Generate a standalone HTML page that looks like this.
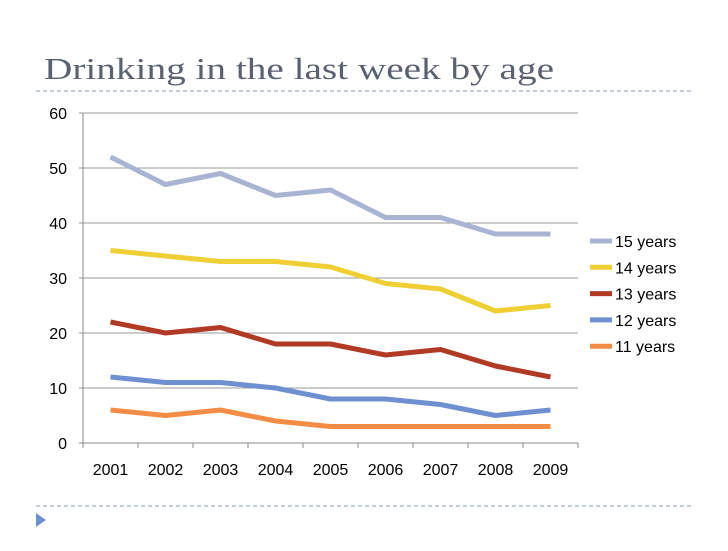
<!DOCTYPE html>
<html><head><meta charset="utf-8"><style>
body{margin:0;width:728px;height:546px;background:#fff;overflow:hidden}
svg text{font-family:"Liberation Sans",Arial,sans-serif}
</style></head><body>
<svg width="728" height="546">
<text x="44" y="79" textLength="510" lengthAdjust="spacingAndGlyphs" style="font-family:'Liberation Serif',serif;font-size:31px" fill="#5a6170">Drinking in the last week by age</text>
<line x1="36" y1="91" x2="694" y2="91" stroke="#8a9bb5" stroke-dasharray="4,3"/>
<line x1="36" y1="506" x2="694" y2="506" stroke="#8a9bb5" stroke-dasharray="4,3"/>
<polygon points="36,513 46,520 36,527" fill="#6e8fd0"/>
<g id="chart"></g>
</svg>
<script>
const years=["2001","2002","2003","2004","2005","2006","2007","2008","2009"];
const yTicks=[0,10,20,30,40,50,60];
const seriesNames=["15 years","14 years","13 years","12 years","11 years"];
const s15=[52,47,49,45,46,41,41,38,38];
const s14=[35,34,33,33,32,29,28,24,25];
const s13=[22,20,21,18,18,16,17,14,12];
const s12=[12,11,11,10,8,8,7,5,6];
const s11=[6,5,6,4,3,3,3,3,3];
const colors=["#a9b4d3","#f0cf35","#b03a24","#6e8fd0","#f38d45"];
const allSeries=[s15,s14,s13,s12,s11];
const NS="http://www.w3.org/2000/svg";
const g=document.getElementById('chart');
const L=83,R=578,T=113,B=443;
const step=(R-L)/years.length;
const x=i=>L+step*(i+0.5);
const y=v=>B-(v/60)*(B-T);
function mk(t,a){const e=document.createElementNS(NS,t);for(const k in a)e.setAttribute(k,a[k]);g.appendChild(e);return e;}
yTicks.forEach(v=>{
 const ln=mk('line',{x1:L-4,x2:R,y1:y(v),y2:y(v),stroke:v===0?'#888':'#999','stroke-width':1});
 
 
 const t=mk('text',{x:L-16,y:y(v)+6,'text-anchor':'end','font-size':'16',fill:'#000'});
 t.textContent=v;
 
 
});
const ax=mk('line',{x1:L,x2:L,y1:T,y2:B,stroke:'#888'});


for(let i=0;i<=years.length;i++){
 const tk=mk('line',{x1:L+step*i,x2:L+step*i,y1:B,y2:B+5,stroke:'#888'});
 
 
}
years.forEach((yr,i)=>{
 const t=mk('text',{x:x(i),y:475,'text-anchor':'middle','font-size':'16',fill:'#000'});
 t.textContent=yr;
 
 
});
allSeries.forEach((s,k)=>{
 const p=mk('polyline',{points:s.map((v,i)=>x(i)+','+y(v)).join(' '),fill:'none',stroke:colors[k],'stroke-width':5,'stroke-linejoin':'round'});
 
 
 const ly=241+k*26.3;
 const ll=mk('line',{x1:590,x2:612,y1:ly,y2:ly,stroke:colors[k],'stroke-width':5});
 
 
 const lt=mk('text',{x:615,y:ly+6,'font-size':'16',fill:'#000'});
 lt.textContent=seriesNames[k];
 
 
});
</script>
</body></html>
